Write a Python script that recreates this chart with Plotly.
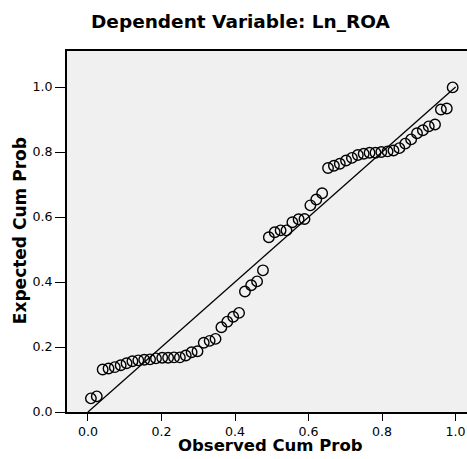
import plotly.graph_objects as go

# Observed cumulative probability (x) and expected cumulative probability (y)
observed_cum_prob = [
    0.008, 0.024, 0.040, 0.056, 0.073, 0.089, 0.105, 0.121, 0.137, 0.153,
    0.169, 0.185, 0.202, 0.218, 0.234, 0.250, 0.266, 0.282, 0.298, 0.315,
    0.331, 0.347, 0.363, 0.379, 0.395, 0.411, 0.427, 0.444, 0.460, 0.476,
    0.492, 0.508, 0.524, 0.540, 0.556, 0.573, 0.589, 0.605, 0.621, 0.637,
    0.653, 0.669, 0.685, 0.702, 0.718, 0.734, 0.750, 0.766, 0.782, 0.798,
    0.815, 0.831, 0.847, 0.863, 0.879, 0.895, 0.911, 0.927, 0.944, 0.960,
    0.976, 0.992,
]
expected_cum_prob = [
    0.042, 0.048, 0.131, 0.134, 0.138, 0.144, 0.150, 0.156, 0.159, 0.161,
    0.162, 0.165, 0.167, 0.167, 0.168, 0.168, 0.174, 0.184, 0.187, 0.213,
    0.219, 0.225, 0.261, 0.278, 0.293, 0.305, 0.371, 0.390, 0.402, 0.436,
    0.538, 0.553, 0.559, 0.559, 0.584, 0.593, 0.594, 0.636, 0.654, 0.673,
    0.751, 0.758, 0.764, 0.774, 0.782, 0.791, 0.795, 0.798, 0.798, 0.800,
    0.802, 0.805, 0.812, 0.826, 0.839, 0.858, 0.867, 0.879, 0.885, 0.931,
    0.934, 0.999,
]
reference_line = [0.0, 1.0]
tick_values = [0.0, 0.2, 0.4, 0.6, 0.8, 1.0]
tick_labels = ["0.0", "0.2", "0.4", "0.6", "0.8", "1.0"]

FONT = "DejaVu Sans"

fig = go.Figure()
fig.add_trace(go.Scatter(
    x=reference_line, y=reference_line, mode="lines",
    line=dict(color="black", width=1.3), hoverinfo="skip", showlegend=False,
))
fig.add_trace(go.Scatter(
    x=observed_cum_prob, y=expected_cum_prob, mode="markers",
    marker=dict(symbol="circle-open", size=10.5, color="black",
                line=dict(color="black", width=1.4)),
    showlegend=False,
))

fig.update_layout(
    width=467, height=459,
    margin=dict(l=67, r=0, t=51, b=47),
    paper_bgcolor="white", plot_bgcolor="#F0F0F0",
    font=dict(family=FONT, color="black"),
    xaxis=dict(
        range=[-0.057, 1.031], tickvals=tick_values, ticktext=tick_labels,
        showgrid=False, zeroline=False, showline=True, linecolor="black",
        linewidth=2, mirror=True, ticks="outside", ticklen=7, tickwidth=1.3,
        tickcolor="black", tickfont=dict(family=FONT, size=12.6, color="black"),
    ),
    yaxis=dict(
        range=[0, 1.111], tickvals=tick_values, ticktext=tick_labels,
        showgrid=False, zeroline=False, showline=True, linecolor="black",
        linewidth=2, mirror=False, ticks="outside", ticklen=10, tickwidth=1.3,
        tickcolor="black", tickfont=dict(family=FONT, size=12.6, color="black"),
    ),
    annotations=[
        dict(text="<b>Dependent Variable: Ln_ROA</b>", xref="paper", yref="paper",
             x=0.434, y=1.083, xanchor="center", yanchor="middle",
             showarrow=False, font=dict(family=FONT, size=18.5, color="black")),
        dict(text="<b>Observed Cum Prob</b>", xref="paper", yref="paper",
             x=0.5075, y=-0.093, xanchor="center", yanchor="middle",
             showarrow=False, font=dict(family=FONT, size=16.5, color="black")),
        dict(text="<b>Expected Cum Prob</b>", xref="paper", yref="paper",
             x=-0.1175, y=0.501, xanchor="center", yanchor="middle",
             textangle=-90, showarrow=False,
             font=dict(family=FONT, size=17, color="black")),
    ],
)

fig.write_html(
    "out.html",
    config={"displayModeBar": False},
    post_script="document.body.style.margin='0';document.body.style.overflow='hidden';",
)
